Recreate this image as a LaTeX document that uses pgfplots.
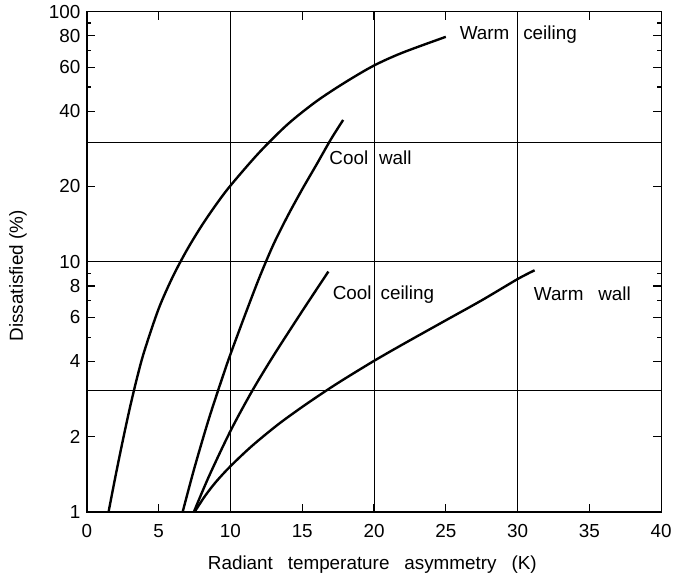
\documentclass[border=0pt]{standalone}
\usepackage{fontspec}
\setmainfont{Liberation Sans}
\usepackage{pgfplots}
\pgfplotsset{compat=1.18}
\begin{document}
\begin{tikzpicture}[font=\fontsize{19}{23}\selectfont]
\begin{axis}[
  scale only axis,
  width=578.5pt, height=504pt,
  ymode=log,
  xmin=0, xmax=40, ymin=1, ymax=100,
  axis line style={line width=1.4pt},
  /pgf/number format/assume math mode=true,
  tick label style={font=\fontsize{19}{23}\selectfont},
  xticklabel style={yshift=-9pt},
  yticklabel style={xshift=-3pt},
  label style={font=\fontsize{19}{23}\selectfont},
  xtick={0,5,...,40},
  xticklabels={0,5,10,15,20,25,30,35,40},
  ytick={1,2,4,6,8,10,20,40,60,80,100},
  yticklabels={1,2,4,6,8,10,20,40,60,80,100},
  minor ytick={5,7,9,50,70,90},
  major tick length=8pt, minor tick length=4pt,
  tick style={line width=1.2pt, black},
  extra x ticks={10,20,30},
  extra x tick labels={},
  extra x tick style={grid=major, major tick length=0pt},
  extra y ticks={3.07,10,30.1},
  extra y tick labels={},
  extra y tick style={grid=major, major tick length=0pt},
  grid style={line width=1.0pt, black},
  every axis y label/.style={at={(axis description cs:-0.120,0.472)},rotate=90,anchor=center},
  every axis x label/.style={at={(axis description cs:0.497,-0.106)},anchor=center},
  xlabel={Radiant\hspace{15pt}temperature\hspace{15pt}asymmetry\hspace{15pt}(K)},
  ylabel={Dissatisfied (\%)},
  clip=true,
]
% Warm ceiling
\addplot[line width=2.4pt, smooth, black] coordinates {
 (1.51,1) (2,1.396) (2.5,1.928) (3,2.615) (3.5,3.447) (4,4.391) (5,6.494) (6,8.758)
 (7,11.23) (8,13.95) (9,16.93) (10,20.16) (12,27.33) (14,35.52) (16,43.85) (18,52.2)
 (20,60.9) (22,68.6) (25,79.3)};
% Cool wall
\addplot[line width=2.4pt, smooth, black] coordinates {
 (6.67,1) (7.5,1.507) (8.5,2.36) (9.5,3.53) (10,4.27) (11,6.10) (12,8.61) (13,11.75)
 (14,15.31) (15,19.5) (16,24.5) (17,30.9) (17.85,36.9)};
% Cool ceiling
\addplot[line width=2.4pt, smooth, black] coordinates {
 (7.45,1) (8.5,1.387) (10,2.107) (11.5,3.038) (13,4.217) (15,6.353) (16.82,9.14)};
% Warm wall
\addplot[line width=2.4pt, smooth, black] coordinates {
 (7.5,1) (8.24,1.161) (9,1.321) (10,1.524) (11.5,1.837) (13.3,2.234) (15,2.63) (16.72,3.069)
 (18,3.42) (20,4.018) (22,4.677) (24.84,5.768) (27.5,7.015) (30,8.531) (31.18,9.247)};
\node[anchor=base west, inner sep=0pt] at (axis description cs:0.649,0.944) {Warm\hspace{14pt}ceiling};
\node[anchor=base west, inner sep=0pt] at (axis description cs:0.422,0.694) {Cool\hspace{11pt}wall};
\node[anchor=base west, inner sep=0pt] at (axis description cs:0.428,0.424) {Cool\hspace{9pt}ceiling};
\node[anchor=base west, inner sep=0pt] at (axis description cs:0.778,0.423) {Warm\hspace{15pt}wall};
\end{axis}
\path (current axis.south west) +(-87.5pt,-62.3pt);
\path (current axis.north east) +(9pt,11.7pt);
\end{tikzpicture}
\end{document}
